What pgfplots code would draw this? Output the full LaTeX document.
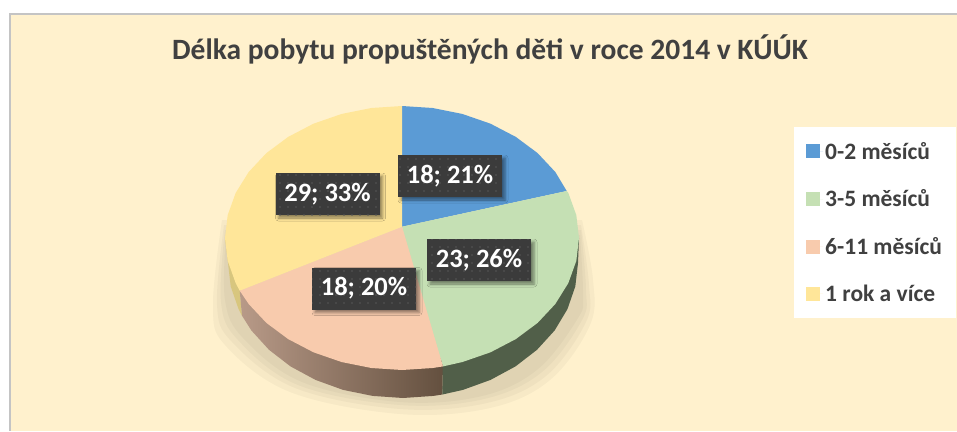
\documentclass[border=0pt]{standalone}
\usepackage{fontspec}
\setmainfont{Carlito}
\usepackage{pgfplots}
\pgfplotsset{compat=1.18}
\usetikzlibrary{shadows.blur,patterns.meta}
\definecolor{panel}{HTML}{FFF1CD}
\definecolor{edgeg}{HTML}{C4C4C4}
\definecolor{txt}{HTML}{404040}
\definecolor{blue1}{HTML}{5B9BD5}
\definecolor{green1}{HTML}{C5E0B4}
\definecolor{peach1}{HTML}{F8CBAD}
\definecolor{yellow1}{HTML}{FFE699}
\definecolor{greenside}{HTML}{515F49}
\definecolor{yellowside}{HTML}{D8C67E}
\definecolor{peachsa}{HTML}{B89A88}
\definecolor{peachsb}{HTML}{84695A}
\definecolor{peachsc}{HTML}{64503F}
\definecolor{lab}{HTML}{3B3B3B}
\definecolor{labdot}{HTML}{565656}
% a bare semicolon breaks the point meta stream
\protected\def\semi{;}
\pgfplotsset{pieshadow/.style={forget plot, draw=none, smooth, tension=0.6, fill=black!80!olive, fill opacity=0.04}}
\begin{document}
\begin{tikzpicture}
\begin{axis}[
  scale only axis, width=957pt, height=431pt,
  xmin=0, xmax=957, ymin=0, ymax=431, y dir=reverse,
  hide axis, clip=false,
  title={Délka pobytu propuštěných děti v roce 2014 v KÚÚK},
  title style={at={(0.512,0.872)}, anchor=center, inner sep=0pt,
    font=\fontsize{29.5}{34}\selectfont\bfseries, text=txt},
  legend cell align=left,
  legend image code/.code={\fill[#1] (0pt,-7pt) rectangle (14pt,7pt); \path (0pt,0pt) -- (17pt,0pt);},
  legend style={at={(0.8297,0.7053)}, anchor=north west, draw=none, fill=white,
    font=\fontsize{23.5}{28}\selectfont\bfseries, text=txt, row sep=25pt,
    inner xsep=12pt, inner ysep=13pt},
]
% page and panel
\addplot[forget plot, draw=none, fill=white] coordinates {(0,0) (957,0) (957,431) (0,431)} -- cycle;
\addplot[forget plot, draw=none, fill=edgeg] coordinates {(9,13) (957,13) (957,431) (9,431)} -- cycle;
\addplot[forget plot, draw=none, fill=panel] coordinates {(11,15) (957,15) (957,431) (11,431)} -- cycle;

% soft shadow under the pie, four faint layers
\addplot[pieshadow] coordinates {(222,220) (213,305) (225,345) (290,392) (400,414) (490,408) (550,380) (590,325) (593,280) (582,220)} -- cycle;
\addplot[pieshadow] coordinates {(224,225) (217,305) (232,342) (295,388) (400,409) (487,403) (546,376) (586,322) (589,285) (581,225)} -- cycle;
\addplot[pieshadow] coordinates {(225,230) (221,302) (238,340) (298,385) (400,405) (484,399) (542,372) (582,320) (586,290) (581,230)} -- cycle;
\addplot[pieshadow] coordinates {(226,235) (225,300) (243,338) (302,382) (400,402) (482,396) (538,369) (578,318) (583,295) (580,235)} -- cycle;

% side of the pie
\addplot[forget plot, draw=none, fill=yellowside] coordinates {
  (239.7,290.7) (242,315.7) (238.6,309.2) (230.7,286.4) (228,263) (225,238) (260,240)} -- cycle;
\addplot[forget plot, draw=none, left color=peachsa, middle color=peachsb, right color=peachsc] coordinates {
  (443,360) (442.4,394.5) (433.4,395.9) (403,398) (372.6,395.9) (343.1,389.9) (315.5,379.9)
  (290.5,366.4) (269,349.8) (251.4,330.5) (242,315.7) (239.7,290.7) (300,280)} -- cycle;
\addplot[forget plot, draw=none, fill=greenside] coordinates {
  (579,238) (578,263) (575.3,286.4) (567.4,309.2) (554.6,330.5) (537,349.8) (515.5,366.4)
  (490.5,379.9) (462.9,389.9) (442.4,394.5) (443,340) (570,240)} -- cycle;

% top of the pie
\addplot[draw=none, fill=blue1] coordinates {
  (402,226.7) (402,106) (432.7,108) (462.5,114) (490.5,123.7) (515.8,136.9) (537.6,153.1)
  (555.3,172) (566.7,191)} -- cycle;
\addplot[draw=none, fill=green1] coordinates {
  (402,226.7) (566.7,191) (568.3,192.9) (576.3,215.1) (579,238) (576.3,260.9) (568.3,283.1)
  (555.3,304) (537.6,322.9) (515.8,339.1) (490.5,352.3) (462.5,362) (443,366.4)} -- cycle;
\addplot[draw=none, fill=peach1] coordinates {
  (402,226.7) (443,366.4) (432.7,368) (402,370) (371.3,368) (341.5,362) (313.5,352.3)
  (288.2,339.1) (266.4,322.9) (248.7,304) (239.7,290.7)} -- cycle;
\addplot[draw=none, fill=yellow1] coordinates {
  (402,226.7) (239.7,290.7) (235.7,283.1) (227.7,260.9) (225,238) (227.7,215.1) (235.7,192.9)
  (248.7,172) (266.4,153.1) (288.2,136.9) (313.5,123.7) (341.5,114) (371.3,108) (402,106)} -- cycle;
\legend{0-2 měsíců,3-5 měsíců,6-11 měsíců,1 rok a více}

% data labels
\addplot[forget plot, draw=none, mark=none, point meta=explicit symbolic,
  nodes near coords,
  every node near coord/.style={anchor=center, fill=lab, text=white, inner sep=0pt,
    minimum width=104pt, minimum height=42pt,
    font=\fontsize{26.5}{31}\selectfont\bfseries,
    blur shadow={shadow xshift=3pt, shadow yshift=-3pt, shadow blur radius=3pt, shadow opacity=45},
    postaction={pattern={Dots[distance=8pt,radius=0.9pt]}, pattern color=labdot}},
] table[x=x, y=y, meta=label, col sep=comma, row sep=crcr] {
  x,y,label\\
  450,176,18\semi{} 21\%\\
  479,260,23\semi{} 26\%\\
  364,288.5,18\semi{} 20\%\\
  327.5,194,29\semi{} 33\%\\
};
\end{axis}
\end{tikzpicture}
\end{document}
